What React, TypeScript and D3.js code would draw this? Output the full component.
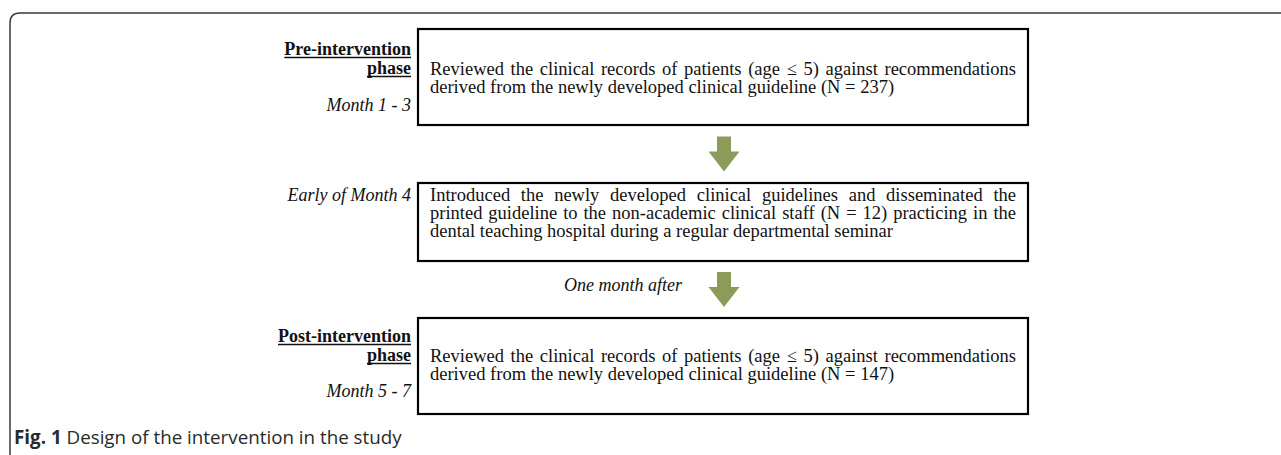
import React, { useEffect, useRef } from 'react';
import * as d3 from 'd3';

// step texts, one entry per line as laid out in the figure
const stepLines: string[][] = [
  [
    'Reviewed the clinical records of patients (age \u2264 5) against recommendations',
    'derived from the newly developed clinical guideline (N = 237)',
  ],
  [
    'Introduced the newly developed clinical guidelines and disseminated the',
    'printed guideline to the non-academic clinical staff (N = 12) practicing in the',
    'dental teaching hospital during a regular departmental seminar',
  ],
  [
    'Reviewed the clinical records of patients (age \u2264 5) against recommendations',
    'derived from the newly developed clinical guideline (N = 147)',
  ],
];
const phaseTitles: string[][] = [['Pre-intervention', 'phase'], [], ['Post-intervention', 'phase']];
const sideNotes = ['Month 1 - 3', 'Early of Month 4', 'Month 5 - 7'];
const arrowNotes = ['', 'One month after'];
const captionBold = 'Fig. 1';
const captionRest = ' Design of the intervention in the study';

const W = 1281;
const H = 455;
const serif = "'Liberation Serif', 'Times New Roman', serif";

const App = () => {
  const svgRef = useRef<SVGSVGElement>(null);

  useEffect(() => {
    if (!svgRef.current) return;
    const svg = d3.select(svgRef.current);
    svg.selectAll('*').remove();

    const fontSize = 18.5;
    const lineH = 18;
    const boxX = [418, 1028];
    const textX = [430, 1016];
    const boxY = [[29, 125], [183, 261], [318, 414]];
    const firstBase = [75, 201, 362];
    const labelRight = 411;

    // outer frame with rounded top-left corner
    const r = 10;
    svg.append('path')
      .attr('d', `M10,${H + 5} V${13 + r} Q10,13 ${10 + r},13 H${W + 5}`)
      .attr('fill', 'none')
      .attr('stroke', '#3a3a3a')
      .attr('stroke-width', 1.5);

    const g = svg.append('g');

    // boxes
    boxY.forEach(([y0, y1]) => {
      g.append('rect')
        .attr('x', boxX[0])
        .attr('y', y0)
        .attr('width', boxX[1] - boxX[0])
        .attr('height', y1 - y0)
        .attr('fill', '#fff')
        .attr('stroke', '#000')
        .attr('stroke-width', 2.2);
    });

    // justified text lines
    stepLines.forEach((lines, i) => {
      lines.forEach((line, j) => {
        const y = firstBase[i] + j * lineH;
        const last = j === lines.length - 1;
        if (last) {
          g.append('text')
            .attr('x', textX[0])
            .attr('y', y)
            .attr('font-family', serif)
            .attr('font-size', fontSize)
            .attr('fill', '#111')
            .text(line);
          return;
        }
        const words = line.split(' ');
        const nodes = words.map(w =>
          g.append('text')
            .attr('y', y)
            .attr('font-family', serif)
            .attr('font-size', fontSize)
            .attr('fill', '#111')
            .text(w)
        );
        const widths = nodes.map(n => (n.node() as SVGTextElement).getComputedTextLength());
        const gap = (textX[1] - textX[0] - d3.sum(widths)) / (words.length - 1);
        let x = textX[0];
        nodes.forEach((n, k) => {
          n.attr('x', x);
          x += widths[k] + gap;
        });
      });
    });

    // phase titles (bold, underlined) and side notes (italic)
    const titleBase = [55, 0, 342];
    const noteBase = [111, 201, 397];
    phaseTitles.forEach((t, i) => {
      t.forEach((s, j) => {
        const y = titleBase[i] + j * 19;
        const tx = g.append('text')
          .attr('x', labelRight)
          .attr('y', y)
          .attr('text-anchor', 'end')
          .attr('font-family', serif)
          .attr('font-weight', 'bold')
          .attr('font-size', 18)
          .attr('fill', '#111')
          .text(s);
        const w = (tx.node() as SVGTextElement).getComputedTextLength();
        g.append('line')
          .attr('x1', labelRight - w)
          .attr('x2', labelRight)
          .attr('y1', y + 2.5)
          .attr('y2', y + 2.5)
          .attr('stroke', '#111')
          .attr('stroke-width', 1.3);
      });
    });
    sideNotes.forEach((s, i) => {
      g.append('text')
        .attr('x', labelRight)
        .attr('y', noteBase[i])
        .attr('text-anchor', 'end')
        .attr('font-family', serif)
        .attr('font-style', 'italic')
        .attr('font-size', 18)
        .attr('fill', '#111')
        .text(s);
    });

    // green arrows between boxes
    const cx = 724;
    const arrowPts = (top: number): [number, number][] => [
      [cx - 7, top], [cx + 7, top], [cx + 7, top + 15], [cx + 15.5, top + 15],
      [cx, top + 35], [cx - 15.5, top + 15], [cx - 7, top + 15],
    ];
    const line = d3.line();
    [0, 1].forEach(i => {
      const mid = (boxY[i][1] + boxY[i + 1][0]) / 2;
      g.append('path')
        .attr('d', line(arrowPts(mid - 17.5)) + 'Z')
        .attr('fill', '#8b9b5a');
      if (arrowNotes[i]) {
        g.append('text')
          .attr('x', 682)
          .attr('y', mid + 1)
          .attr('text-anchor', 'end')
          .attr('font-family', serif)
          .attr('font-style', 'italic')
          .attr('font-size', 18)
          .attr('fill', '#111')
          .text(arrowNotes[i]);
      }
    });

    // caption
    const cap = svg.append('text')
      .attr('x', 14)
      .attr('y', 444)
      .attr('font-family', "'Open Sans', sans-serif")
      .attr('font-size', 18.8)
      .attr('fill', '#2a2a2a');
    cap.append('tspan').attr('font-weight', 'bold').text(captionBold);
    cap.append('tspan').text(captionRest);
  }, []);

  return (
    <svg
      ref={svgRef}
      width={W}
      height={H}
      style={{ position: 'absolute', left: 0, top: 0, background: '#fff' }}
    />
  );
};

export default App;
